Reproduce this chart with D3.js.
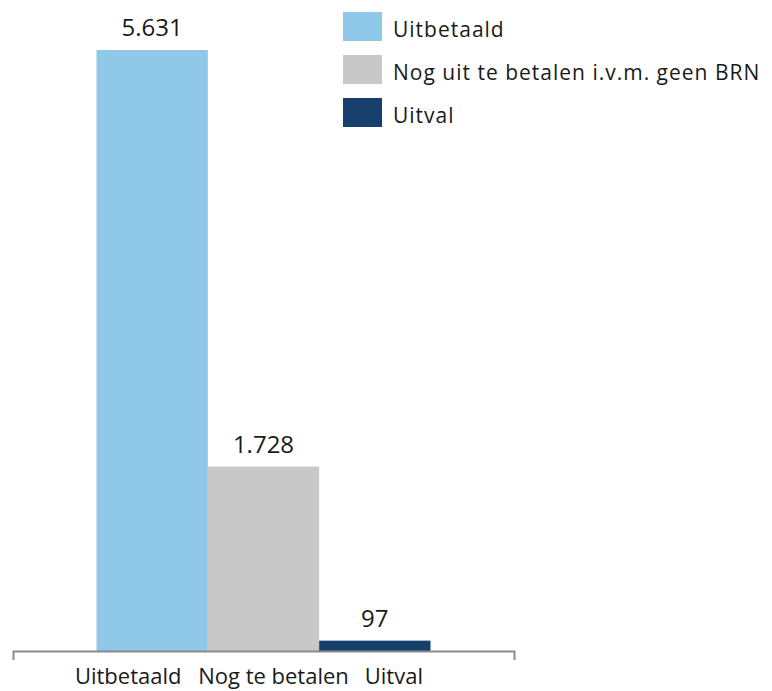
<!DOCTYPE html>
<html>
<head>
<meta charset="utf-8">
<script src="https://cdn.jsdelivr.net/npm/d3@7"></script>
<style>
  body { margin: 0; background: #fff; }
  text { font-family: "Open Sans", sans-serif; fill: #1a1a1a; }
</style>
</head>
<body>
<div id="chart"></div>
<script>
  // data
  var categories = ['Uitbetaald', 'Nog te betalen', 'Uitval'];
  var values = [5631, 1728, 97];
  var legendLabels = ['Uitbetaald', 'Nog uit te betalen i.v.m. geen BRN', 'Uitval'];
  var colors = ['#8fc8e8', '#c8c8c8', '#163f6e'];
  // labels under the axis sit a bit off the bar centres in the original
  var labelShift = [-24, 10, 19];

  var width = 772, height = 691;
  var svg = d3.select('#chart').append('svg')
    .attr('width', width)
    .attr('height', height);

  var x = d3.scaleBand()
    .domain(categories)
    .range([13, 514])
    .paddingInner(0)
    .paddingOuter(0.75);

  var y = d3.scaleLinear()
    .domain([0, 5631])
    .range([651, 50]);

  var fmt = function(v) {
    return d3.format(',')(v).replace(/,/g, '.');
  };

  // bars
  svg.selectAll('rect.bar')
    .data(values)
    .enter()
    .append('rect')
    .attr('class', 'bar')
    .attr('x', function(d, i) { return x(categories[i]); })
    .attr('y', function(d) { return y(d); })
    .attr('width', x.bandwidth())
    .attr('height', function(d) { return y(0) - y(d); })
    .attr('fill', function(d, i) { return colors[i]; });

  // value labels
  svg.selectAll('text.value')
    .data(values)
    .enter()
    .append('text')
    .attr('class', 'value')
    .attr('x', function(d, i) { return x(categories[i]) + x.bandwidth() / 2; })
    .attr('y', function(d) { return y(d) - 14; })
    .attr('text-anchor', 'middle')
    .style('font-size', '24px')
    .text(fmt);

  // x axis
  var axis = svg.append('g')
    .attr('transform', 'translate(0,' + y(0) + ')')
    .call(d3.axisBottom(x).tickSize(0).tickSizeOuter(9).tickPadding(17));

  axis.select('.domain')
    .attr('stroke', '#8a8a8a')
    .attr('stroke-width', 2);

  axis.selectAll('.tick text')
    .attr('dx', function(d, i) { return labelShift[i]; })
    .attr('fill', '#1a1a1a')
    .style('font-family', '"Open Sans", sans-serif')
    .style('font-size', '22px');

  // legend
  var legend = svg.selectAll('g.legend')
    .data(legendLabels)
    .enter()
    .append('g')
    .attr('class', 'legend')
    .attr('transform', function(d, i) { return 'translate(343,' + (12 + i * 43) + ')'; });

  legend.append('rect')
    .attr('width', 39)
    .attr('height', 29)
    .attr('fill', function(d, i) { return colors[i]; });

  legend.append('text')
    .attr('x', 50)
    .attr('y', 25)
    .style('font-size', '21px')
    .style('letter-spacing', '1px')
    .text(function(d) { return d; });
</script>
</body>
</html>
